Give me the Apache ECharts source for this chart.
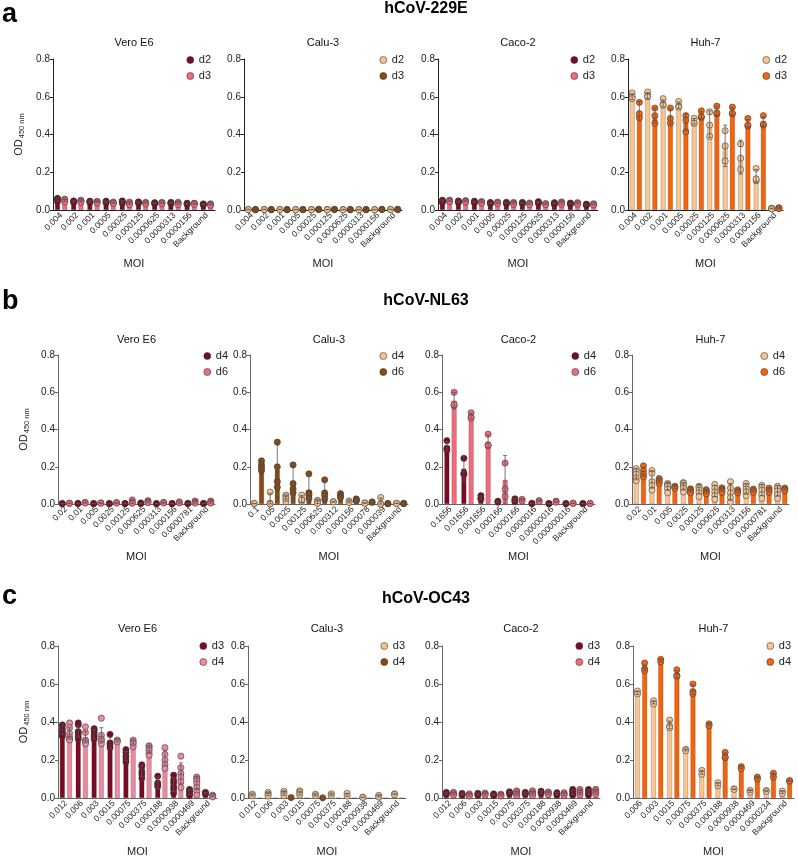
<!DOCTYPE html>
<html><head><meta charset="utf-8">
<script src="https://cdn.jsdelivr.net/npm/echarts@6/dist/echarts.min.js"></script>
<style>html,body{margin:0;padding:0;background:#fff}#c{width:798px;height:858px}</style>
</head><body><div id="c"></div>
<script>
// ---------- categories ----------
const cats229E = ['0.004','0.002','0.001','0.0005','0.00025','0.000125','0.0000625','0.0000313','0.0000156','Background'];
const catsNL_vero = ['0.02','0.01','0.005','0.0025','0.00125','0.000625','0.000313','0.000156','0.0000781','Background'];
const catsNL_calu = ['0.1','0.05','0.0025','0.00125','0.000625','0.000312','0.000156','0.000078','0.000039','Background'];
const catsNL_caco = ['0.1656','0.01656','0.001656','0.000166','0.0000166','0.0000016','0.00000016','0.000000016','Background'];
const catsOC = ['0.012','0.006','0.003','0.0015','0.00075','0.000375','0.000188','0.0000938','0.0000469','Background'];
const catsOC_huh = ['0.006','0.003','0.0015','0.00075','0.000375','0.000188','0.0000938','0.0000469','0.0000234','Background'];

// ---------- row a: hCoV-229E ----------
const A1_d2_mean = [0.055,0.045,0.044,0.043,0.043,0.040,0.036,0.037,0.033,0.030];
const A1_d2_err  = [0.008,0.004,0.004,0.004,0.006,0.003,0.003,0.004,0.003,0.003];
const A1_d2_pts  = [[0.062,0.058,0.045],[0.048,0.046,0.040],[0.047,0.045,0.040],[0.047,0.044,0.038],[0.048,0.045,0.036],[0.043,0.040,0.037],[0.039,0.036,0.033],[0.041,0.037,0.033],[0.036,0.033,0.030],[0.032,0.030,0.027]];
const A1_d3_mean = [0.050,0.046,0.042,0.038,0.035,0.036,0.036,0.035,0.033,0.029];
const A1_d3_err  = [0.006,0.005,0.004,0.004,0.006,0.004,0.003,0.005,0.003,0.003];
const A1_d3_pts  = [[0.058,0.052,0.042],[0.052,0.047,0.040],[0.046,0.043,0.037],[0.042,0.038,0.034],[0.042,0.036,0.028],[0.040,0.037,0.032],[0.040,0.036,0.033],[0.041,0.036,0.029],[0.036,0.033,0.030],[0.033,0.029,0.025]];

const A2_d2_mean = [0.003,0.003,0.003,0.002,0.002,0.002,0.002,0.002,0.002,0.003];
const A2_d2_err  = [0.001,0.001,0.001,0.001,0.001,0.001,0.001,0.001,0.001,0.001];
const A2_d2_pts  = [[0.004,0.002],[0.004,0.002],[0.004,0.002],[0.003,0.001],[0.003,0.001],[0.003,0.001],[0.003,0.001],[0.003,0.001],[0.003,0.001],[0.004,0.002]];
const A2_d3_mean = [0.002,0.002,0.002,0.002,0.003,0.003,0.002,0.002,0.003,0.003];
const A2_d3_err  = [0.001,0.001,0.001,0.001,0.001,0.001,0.001,0.001,0.001,0.001];
const A2_d3_pts  = [[0.003,0.001],[0.003,0.001],[0.003,0.001],[0.003,0.001],[0.004,0.002],[0.004,0.002],[0.003,0.001],[0.003,0.001],[0.004,0.002],[0.004,0.002]];

const A3_d2_mean = [0.047,0.044,0.042,0.036,0.037,0.037,0.040,0.035,0.034,0.028];
const A3_d2_err  = [0.005,0.004,0.004,0.003,0.004,0.003,0.004,0.003,0.003,0.003];
const A3_d2_pts  = [[0.052,0.047,0.040],[0.048,0.044,0.040],[0.047,0.042,0.038],[0.040,0.036,0.033],[0.041,0.037,0.033],[0.040,0.037,0.034],[0.044,0.040,0.036],[0.039,0.035,0.031],[0.037,0.034,0.031],[0.031,0.028,0.025]];
const A3_d3_mean = [0.048,0.046,0.041,0.038,0.035,0.033,0.031,0.037,0.035,0.030];
const A3_d3_err  = [0.004,0.004,0.004,0.004,0.005,0.004,0.003,0.006,0.004,0.003];
const A3_d3_pts  = [[0.052,0.048,0.044],[0.050,0.046,0.042],[0.045,0.041,0.037],[0.042,0.038,0.034],[0.040,0.035,0.030],[0.037,0.033,0.029],[0.034,0.031,0.028],[0.043,0.037,0.031],[0.039,0.035,0.031],[0.033,0.030,0.027]];

const A4_d2_mean = [0.600,0.605,0.565,0.555,0.470,0.455,0.340,0.280,0.180,0.008];
const A4_d2_err  = [0.015,0.015,0.018,0.017,0.015,0.070,0.110,0.090,0.035,0.002];
const A4_d2_pts  = [[0.62,0.60,0.59],[0.625,0.605,0.60],[0.59,0.56,0.555],[0.575,0.55,0.545],[0.485,0.46,0.46],[0.52,0.39,0.45],[0.42,0.26,0.34],[0.35,0.215,0.275],[0.22,0.155,0.165],[0.010,0.007,0.006]];
const A4_d3_mean = [0.525,0.500,0.495,0.465,0.503,0.525,0.522,0.460,0.468,0.010];
const A4_d3_err  = [0.050,0.040,0.040,0.045,0.020,0.025,0.020,0.020,0.025,0.003];
const A4_d3_pts  = [[0.57,0.49,0.51],[0.54,0.46,0.50],[0.54,0.46,0.485],[0.50,0.415,0.475],[0.525,0.49,0.495],[0.55,0.51,0.515],[0.545,0.51,0.512],[0.485,0.445,0.45],[0.50,0.45,0.455],[0.012,0.009,0.008]];

// ---------- row b: hCoV-NL63 ----------
const B1_d4_mean = [0.002,0.003,0.002,0.002,0.002,0.004,0.002,0.002,0.003,0.003];
const B1_d4_err  = [0.001,0.001,0.001,0.001,0.001,0.002,0.001,0.001,0.001,0.001];
const B1_d4_pts  = [[0.003,0.001],[0.004,0.002],[0.003,0.001],[0.003,0.001],[0.003,0.001],[0.006,0.002],[0.003,0.001],[0.003,0.001],[0.004,0.002],[0.004,0.002]];
const B1_d6_mean = [0.004,0.007,0.005,0.006,0.012,0.012,0.007,0.008,0.010,0.010];
const B1_d6_err  = [0.001,0.002,0.001,0.002,0.008,0.005,0.002,0.003,0.005,0.005];
const B1_d6_pts  = [[0.005,0.003],[0.009,0.005],[0.006,0.004],[0.008,0.005],[0.022,0.010,0.004],[0.018,0.012,0.007],[0.009,0.005],[0.011,0.006],[0.016,0.010,0.005],[0.016,0.010,0.005]];

const B2_d4_mean = [0.002,0.022,0.030,0.027,0.012,0.012,0.012,0.005,0.012,0.003];
const B2_d4_err  = [0.001,0.035,0.015,0.018,0.010,0.002,0.005,0.001,0.020,0.001];
const B2_d4_pts  = [[0.003,0.002],[0.064,0.002,0.0],[0.048,0.038,0.025,0.012],[0.048,0.022,0.014,0.022],[0.020,0.012,0.003],[0.013,0.011],[0.016,0.008],[0.006,0.004],[0.035,0.001,0.0],[0.004,0.002]];
const B2_d6_mean = [0.205,0.185,0.115,0.075,0.065,0.045,0.022,0.010,0.002,0.003];
const B2_d6_err  = [0.025,0.145,0.095,0.075,0.060,0.012,0.006,0.002,0.001,0.001];
const B2_d6_pts  = [[0.232,0.21,0.18,0.195],[0.332,0.20,0.12,0.09],[0.21,0.11,0.08,0.06],[0.162,0.06,0.05,0.03],[0.13,0.06,0.045,0.025],[0.056,0.045,0.035],[0.027,0.020,0.018],[0.011,0.009],[0.003,0.001],[0.004,0.002]];

const B3_d4_mean = [0.310,0.190,0.033,0.012,0.020,0.003,0.002,0.002,0.002];
const B3_d4_err  = [0.025,0.070,0.010,0.003,0.008,0.001,0.001,0.001,0.001];
const B3_d4_pts  = [[0.34,0.30,0.29],[0.245,0.165,0.16],[0.045,0.030,0.025],[0.015,0.010],[0.028,0.018,0.012],[0.004,0.002],[0.003,0.001],[0.003,0.001],[0.003,0.001]];
const B3_d6_mean = [0.555,0.472,0.335,0.130,0.020,0.015,0.012,0.004,0.003];
const B3_d6_err  = [0.045,0.015,0.035,0.130,0.005,0.003,0.003,0.001,0.001];
const B3_d6_pts  = [[0.60,0.53,0.535],[0.49,0.465,0.462],[0.375,0.315,0.315],[0.22,0.08,0.04],[0.025,0.016],[0.018,0.012],[0.015,0.010],[0.005,0.003],[0.004,0.002]];

const B4_d4_mean = [0.160,0.130,0.095,0.095,0.080,0.070,0.065,0.080,0.075,0.070];
const B4_d4_err  = [0.030,0.045,0.020,0.020,0.025,0.030,0.045,0.028,0.030,0.028];
const B4_d4_pts  = [[0.19,0.175,0.16,0.14,0.125],[0.18,0.165,0.12,0.10,0.075],[0.11,0.105,0.095,0.08,0.06],[0.115,0.11,0.095,0.085,0.065],[0.095,0.088,0.075,0.06,0.04],[0.105,0.085,0.065,0.045,0.025],[0.12,0.085,0.06,0.035,0.01],[0.11,0.095,0.08,0.065,0.045],[0.10,0.09,0.075,0.05,0.03],[0.095,0.085,0.07,0.05,0.03]];
const B4_d6_mean = [0.172,0.125,0.090,0.075,0.068,0.078,0.068,0.072,0.074,0.080];
const B4_d6_err  = [0.025,0.012,0.006,0.012,0.010,0.010,0.008,0.008,0.010,0.006];
const B4_d6_pts  = [[0.205,0.18,0.16,0.145],[0.137,0.13,0.12,0.11],[0.095,0.09,0.085],[0.082,0.075,0.065,0.06],[0.077,0.07,0.06,0.055],[0.087,0.08,0.07,0.062],[0.076,0.07,0.06],[0.08,0.072,0.062],[0.085,0.074,0.062],[0.086,0.08,0.072]];

// ---------- row c: hCoV-OC43 ----------
const C1_d3_mean = [0.360,0.350,0.335,0.290,0.220,0.140,0.080,0.070,0.030,0.025];
const C1_d3_err  = [0.025,0.030,0.025,0.030,0.025,0.030,0.030,0.035,0.013,0.004];
const C1_d3_pts  = [[0.385,0.38,0.36,0.345,0.335,0.325],[0.395,0.385,0.35,0.34,0.325,0.31],[0.365,0.355,0.34,0.325,0.31],[0.335,0.29,0.28,0.265],[0.255,0.24,0.22,0.205,0.19],[0.175,0.165,0.14,0.125,0.105],[0.115,0.08,0.07,0.06],[0.12,0.095,0.08,0.06,0.045,0.025],[0.045,0.04,0.03,0.02,0.012],[0.03,0.025,0.02]];
const C1_d4_mean = [0.340,0.320,0.330,0.300,0.290,0.255,0.210,0.130,0.080,0.010];
const C1_d4_err  = [0.030,0.030,0.040,0.006,0.015,0.020,0.040,0.055,0.035,0.004];
const C1_d4_pts  = [[0.395,0.37,0.34,0.32,0.31,0.305],[0.375,0.345,0.305,0.295,0.285],[0.42,0.33,0.31,0.30,0.285],[0.305,0.30,0.295],[0.305,0.295,0.285,0.27],[0.275,0.27,0.26,0.25,0.235,0.225],[0.265,0.23,0.20,0.175,0.155],[0.22,0.16,0.13,0.11,0.085,0.055],[0.11,0.10,0.09,0.075,0.055,0.035,0.015],[0.015,0.010,0.006]];

const C2_d3_mean = [0.015,0.020,0.024,0.025,0.015,0.016,0.016,0.004,0.009,0.020];
const C2_d3_err  = [0.004,0.008,0.010,0.010,0.004,0.005,0.007,0.001,0.004,0.002];
const C2_d3_pts  = [[0.020,0.012],[0.030,0.020,0.010],[0.035,0.025,0.012],[0.038,0.030,0.015],[0.020,0.012],[0.022,0.012],[0.025,0.010],[0.005,0.003],[0.014,0.005],[0.022,0.018]];
const C2_d4_mean = [0,0,0.002,0,0.001,0,0,0,0,0];
const C2_d4_err  = [0,0,0.001,0,0.001,0,0,0,0,0];
const C2_d4_pts  = [[],[],[0.002],[],[0.001],[],[],[],[],[]];

const C3_d3_mean = [0.025,0.020,0.020,0.018,0.028,0.025,0.030,0.022,0.030,0.030];
const C3_d3_err  = [0.005,0.004,0.005,0.004,0.005,0.005,0.006,0.006,0.012,0.012];
const C3_d3_pts  = [[0.030,0.025,0.018],[0.024,0.020,0.015],[0.025,0.020,0.015],[0.022,0.017,0.012],[0.033,0.028,0.022],[0.030,0.025,0.020],[0.036,0.030,0.024],[0.028,0.022,0.015],[0.045,0.035,0.025,0.015],[0.045,0.035,0.025,0.015]];
const C3_d4_mean = [0.022,0.015,0.020,0.015,0.025,0.024,0.025,0.020,0.030,0.032];
const C3_d4_err  = [0.006,0.005,0.005,0.005,0.010,0.010,0.006,0.007,0.012,0.012];
const C3_d4_pts  = [[0.030,0.022,0.015],[0.022,0.015,0.010],[0.026,0.020,0.015],[0.020,0.015,0.010],[0.038,0.030,0.020,0.012],[0.038,0.028,0.020,0.012],[0.032,0.025,0.018],[0.028,0.020,0.012],[0.045,0.035,0.025,0.015],[0.046,0.038,0.028,0.018]];

const C4_d3_mean = [0.553,0.503,0.385,0.252,0.135,0.072,0.046,0.035,0.036,0.030];
const C4_d3_err  = [0.008,0.008,0.020,0.004,0.010,0.008,0.002,0.005,0.003,0.006];
const C4_d3_pts  = [[0.563,0.548],[0.512,0.495],[0.41,0.378,0.37],[0.256,0.249],[0.145,0.125],[0.08,0.065],[0.048,0.045],[0.04,0.03],[0.039,0.034],[0.036,0.024]];
const C4_d4_mean = [0.685,0.722,0.652,0.570,0.385,0.222,0.160,0.105,0.120,0.090];
const C4_d4_err  = [0.015,0.006,0.018,0.025,0.005,0.015,0.005,0.005,0.010,0.002];
const C4_d4_pts  = [[0.71,0.68,0.67],[0.73,0.717],[0.675,0.645,0.64],[0.60,0.56,0.55],[0.39,0.38],[0.24,0.215,0.212],[0.165,0.155],[0.11,0.10],[0.13,0.11],[0.091,0.089]];

// ---------- text ----------
const rowTitles = ['hCoV-229E','hCoV-NL63','hCoV-OC43'];
const rowLetters = ['a','b','c'];
const cellTitles = ['Vero E6','Calu-3','Caco-2','Huh-7'];
const dayNames = [['d2','d3'],['d4','d6'],['d3','d4']];

// ---------- styling / layout ----------
const COL = {maroon:'#7a0b22', pink:'#f26b7a', pinkC:'#ec8aa1', tan:'#f6c38d', brown:'#8a4813', peach:'#f9c590', orange:'#f5640b'};
const rowsGeom = [
  {top:59, h:151, lefts:[53,244,438,628], widths:[162,158,160,155], legX:[190,383,574,766], legY:60, titleY:1, panelY:37, letterY:1, moiGap:48, axis:'#222'},
  {top:355, h:149, lefts:[58,250,442,632], widths:[157,158,153,157], legX:[207,383,575,764], legY:356, titleY:293, panelY:334, letterY:288, moiGap:47, axis:'#666'},
  {top:646, h:153, lefts:[58,248,442,633], widths:[159,158,158,161], legX:[203,384,579,770], legY:646, titleY:591, panelY:623, letterY:583, moiGap:48, axis:'#666'}
];

const panels = [
  {r:0,c:0,cats:cats229E, s:[[A1_d2_mean,A1_d2_err,A1_d2_pts,COL.maroon],[A1_d3_mean,A1_d3_err,A1_d3_pts,COL.pink]]},
  {r:0,c:1,cats:cats229E, s:[[A2_d2_mean,A2_d2_err,A2_d2_pts,COL.tan],[A2_d3_mean,A2_d3_err,A2_d3_pts,COL.brown]]},
  {r:0,c:2,cats:cats229E, s:[[A3_d2_mean,A3_d2_err,A3_d2_pts,COL.maroon],[A3_d3_mean,A3_d3_err,A3_d3_pts,COL.pink]]},
  {r:0,c:3,cats:cats229E, s:[[A4_d2_mean,A4_d2_err,A4_d2_pts,COL.peach],[A4_d3_mean,A4_d3_err,A4_d3_pts,COL.orange]]},
  {r:1,c:0,cats:catsNL_vero, s:[[B1_d4_mean,B1_d4_err,B1_d4_pts,COL.maroon],[B1_d6_mean,B1_d6_err,B1_d6_pts,COL.pink]]},
  {r:1,c:1,cats:catsNL_calu, s:[[B2_d4_mean,B2_d4_err,B2_d4_pts,COL.tan],[B2_d6_mean,B2_d6_err,B2_d6_pts,COL.brown]]},
  {r:1,c:2,cats:catsNL_caco, s:[[B3_d4_mean,B3_d4_err,B3_d4_pts,COL.maroon],[B3_d6_mean,B3_d6_err,B3_d6_pts,COL.pink]]},
  {r:1,c:3,cats:catsNL_vero, s:[[B4_d4_mean,B4_d4_err,B4_d4_pts,COL.peach],[B4_d6_mean,B4_d6_err,B4_d6_pts,COL.orange]]},
  {r:2,c:0,cats:catsOC, s:[[C1_d3_mean,C1_d3_err,C1_d3_pts,COL.maroon],[C1_d4_mean,C1_d4_err,C1_d4_pts,COL.pinkC]]},
  {r:2,c:1,cats:catsOC, s:[[C2_d3_mean,C2_d3_err,C2_d3_pts,COL.tan],[C2_d4_mean,C2_d4_err,C2_d4_pts,COL.brown]]},
  {r:2,c:2,cats:catsOC, s:[[C3_d3_mean,C3_d3_err,C3_d3_pts,COL.maroon],[C3_d4_mean,C3_d4_err,C3_d4_pts,COL.pink]]},
  {r:2,c:3,cats:catsOC_huh, s:[[C4_d3_mean,C4_d3_err,C4_d3_pts,COL.peach],[C4_d4_mean,C4_d4_err,C4_d4_pts,COL.orange]]}
];

const FONT = 'Liberation Sans, Arial, Helvetica, sans-serif';
const BAR_W = 5, OFF = 3.6;
const grid = [], xAxis = [], yAxis = [], series = [], legend = [], title = [];

rowsGeom.forEach((g, r) => {
  title.push({text: rowTitles[r], left: 426, top: g.titleY, textAlign: 'center', padding: 0,
    textStyle: {fontSize: 16, fontWeight: 'bold', color: '#000', fontFamily: FONT}});
  title.push({text: rowLetters[r], left: 2, top: g.letterY, padding: 0,
    textStyle: {fontSize: 27, fontWeight: 'bold', color: '#000', fontFamily: FONT}});
});

panels.forEach((p, k) => {
  const g = rowsGeom[p.r];
  const left = g.lefts[p.c], width = g.widths[p.c];
  grid.push({left: left, top: g.top, width: width, height: g.h, containLabel: false});
  title.push({text: cellTitles[p.c], left: left + width / 2, top: g.panelY, textAlign: 'center', padding: 0,
    textStyle: {fontSize: 11, fontWeight: 'normal', color: '#111', fontFamily: FONT}});
  xAxis.push({type: 'category', gridIndex: k, data: p.cats, boundaryGap: true,
    axisLine: {lineStyle: {color: g.axis, width: 1}},
    axisTick: {alignWithLabel: true, length: 3, lineStyle: {color: g.axis}},
    axisLabel: {rotate: 45, interval: 0, fontSize: 8.5, margin: 4, color: '#222', fontFamily: FONT},
    name: 'MOI', nameLocation: 'middle', nameGap: g.moiGap,
    nameTextStyle: {fontSize: 11, color: '#222', fontFamily: FONT}});
  const ya = {type: 'value', gridIndex: k, min: 0, max: 0.8, interval: 0.2,
    axisLine: {show: true, lineStyle: {color: g.axis, width: 1}},
    axisTick: {show: true, length: 3, lineStyle: {color: g.axis}},
    splitLine: {show: false},
    axisLabel: {fontSize: 10, margin: 3, color: '#222', fontFamily: FONT, formatter: v => v.toFixed(1)}};
  if (p.c === 0) {
    ya.name = '{a|OD}{b|450 nm}';
    ya.nameLocation = 'middle';
    ya.nameGap = 29;
    ya.nameRotate = 90;
    ya.nameTextStyle = {fontFamily: FONT, color: '#222', rich: {
      a: {fontSize: 11, color: '#222', fontFamily: FONT, lineHeight: 14, verticalAlign: 'bottom'},
      b: {fontSize: 7.5, color: '#222', fontFamily: FONT, lineHeight: 14, verticalAlign: 'bottom', padding: [0, 0, -2, 1]}}};
  }
  yAxis.push(ya);

  const names = [];
  p.s.forEach((s, si) => {
    const [mean, err, pts, color] = s;
    const nm = 'P' + k + '|' + dayNames[p.r][si];
    names.push(nm);
    const dx = si === 0 ? -OFF : OFF;
    series.push({type: 'bar', name: nm, xAxisIndex: k, yAxisIndex: k, data: mean,
      barWidth: BAR_W, barGap: '45%', z: 2, silent: true,
      itemStyle: {color: color, borderColor: 'rgba(40,40,40,0.45)', borderWidth: 0.5}});
    // error bars (mean ± SD)
    series.push({type: 'custom', name: nm + '_err', xAxisIndex: k, yAxisIndex: k, z: 4, silent: true,
      data: mean.map((m, i) => [i, m, err[i]]),
      encode: {x: 0, y: 1},
      renderItem: (params, api) => {
        const i = api.value(0), m = api.value(1), e = api.value(2);
        if (!e) return null;
        const top = api.coord([i, m + e]);
        const bot = api.coord([i, Math.max(0, m - e)]);
        const x = top[0] + dx;
        const st = {stroke: '#555', lineWidth: 0.8};
        return {type: 'group', children: [
          {type: 'line', shape: {x1: x, y1: top[1], x2: x, y2: bot[1]}, style: st},
          {type: 'line', shape: {x1: x - 2, y1: top[1], x2: x + 2, y2: top[1]}, style: st},
          {type: 'line', shape: {x1: x - 2, y1: bot[1], x2: x + 2, y2: bot[1]}, style: st}
        ]};
      }});
    // replicate points
    const flat = [];
    pts.forEach((arr, i) => arr.forEach(v => flat.push([i, v])));
    series.push({type: 'custom', name: nm + '_pts', xAxisIndex: k, yAxisIndex: k, z: 3, silent: true,
      data: flat, encode: {x: 0, y: 1},
      renderItem: (params, api) => {
        const c = api.coord([api.value(0), api.value(1)]);
        return {type: 'circle', shape: {cx: c[0] + dx, cy: c[1], r: 3.1},
          style: {fill: color, stroke: '#3a3a3a', lineWidth: 0.6}};
      }});
  });
  legend.push({data: names.map(n => ({name: n, icon: 'circle'})), orient: 'vertical',
    left: g.legX[p.c] - 3.5, top: g.legY - 7, padding: 0, itemWidth: 7, itemHeight: 7, itemGap: 2,
    selectedMode: false, formatter: n => n.split('|')[1],
    itemStyle: {borderColor: '#3a3a3a', borderWidth: 0.6},
    textStyle: {fontSize: 11, lineHeight: 14, color: '#222', fontFamily: FONT}});
});

const chart = echarts.init(document.getElementById('c'), null, {renderer: 'canvas'});
chart.setOption({animation: false, backgroundColor: '#fff', textStyle: {fontFamily: FONT},
  title: title, grid: grid, xAxis: xAxis, yAxis: yAxis, legend: legend, series: series});
</script></body></html>
